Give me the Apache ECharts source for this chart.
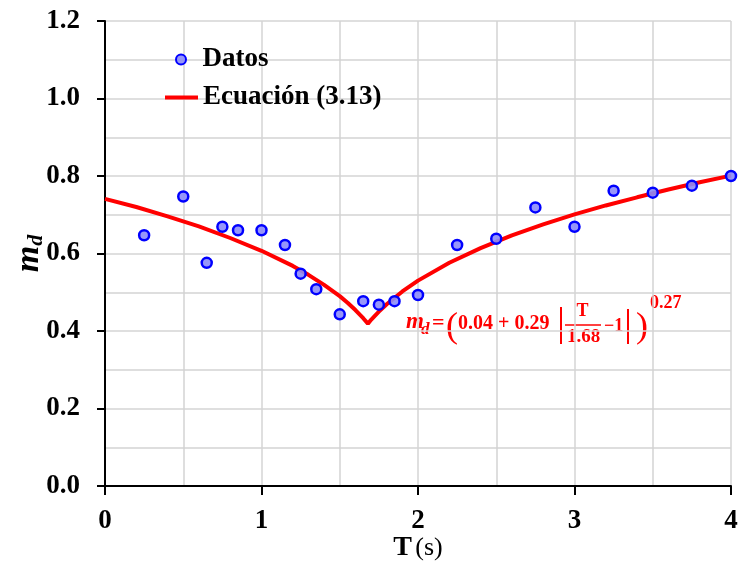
<!DOCTYPE html>
<html>
<head>
<meta charset="utf-8">
<script src="https://cdn.jsdelivr.net/npm/echarts@6/dist/echarts.min.js"></script>
<style>html,body{margin:0;padding:0;background:#fff}#c{width:739px;height:566px}</style>
</head>
<body>
<div id="c"></div>
<script>
// Measured data points (T in s, m_d)
const datosT = [0.25, 0.5, 0.65, 0.75, 0.85, 1.0, 1.15, 1.25, 1.35, 1.5, 1.65, 1.75, 1.85, 2.0, 2.25, 2.5, 2.75, 3.0, 3.25, 3.5, 3.75, 4.0];
const datosMd = [0.647, 0.747, 0.576, 0.669, 0.660, 0.660, 0.622, 0.548, 0.508, 0.443, 0.477, 0.468, 0.477, 0.493, 0.622, 0.638, 0.719, 0.669, 0.762, 0.757, 0.775, 0.800];
// Curve "Ecuación (3.13)"
const curvaT = [0, 0.2, 0.4, 0.6, 0.8, 1.0, 1.2, 1.3, 1.4, 1.5, 1.55, 1.6, 1.65, 1.68, 1.7, 1.75, 1.8, 1.9, 2.0, 2.2, 2.4, 2.6, 2.8, 3.0, 3.2, 3.4, 3.6, 3.8, 4.0];
const curvaMd = [0.741, 0.720, 0.696, 0.670, 0.640, 0.607, 0.568, 0.545, 0.519, 0.490, 0.473, 0.454, 0.433, 0.419, 0.429, 0.450, 0.469, 0.502, 0.530, 0.576, 0.614, 0.647, 0.675, 0.701, 0.724, 0.745, 0.765, 0.784, 0.801];
const xTicks = [0, 1, 2, 3, 4];
const yTicks = [0.0, 0.2, 0.4, 0.6, 0.8, 1.0, 1.2];

const F = 'Liberation Serif';
const chart = echarts.init(document.getElementById('c'));
const gridLine = { show: true, lineStyle: { color: '#d4d4d4', width: 1.5 } };
const red = '#ff0000';
const legendText = { fontFamily: F, fontWeight: 'bold', fontSize: 27, color: '#000' };

function t(txt, x, y, size, opts) {
  return { type: 'text', x: x, y: y, style: Object.assign({ text: txt, fontFamily: F, fontWeight: 'bold', fontSize: size, fill: red, align: 'left', verticalAlign: 'middle' }, opts || {}) };
}

chart.setOption({
  animation: false,
  grid: { left: 105, right: 8, top: 21, bottom: 80, containLabel: false, outerBoundsMode: 'none' },
  legend: [
    { data: [{ name: 'Datos', icon: 'circle' }], left: 170, top: 41, itemWidth: 33, itemHeight: 10, textStyle: legendText },
    { data: [{ name: 'Ecuación (3.13)', icon: 'rect' }], left: 160, top: 79, itemWidth: 33, itemHeight: 4, textStyle: legendText }
  ],
  xAxis: {
    type: 'value', min: xTicks[0], max: xTicks[xTicks.length - 1], interval: 1,
    name: '{a|T} {b|(s)}', nameLocation: 'middle', nameGap: 48, nameMoveOverlap: false,
    nameTextStyle: { rich: { a: { fontFamily: F, fontWeight: 'bold', fontSize: 28, color: '#000' }, b: { fontFamily: F, fontWeight: 'normal', fontSize: 26, color: '#000' } } },
    axisLine: { show: true, onZero: false, lineStyle: { color: '#000', width: 2 } },
    axisTick: { show: true, inside: false, length: 9, lineStyle: { color: '#000', width: 2 } },
    axisLabel: { fontFamily: F, fontWeight: 'bold', fontSize: 27, color: '#000', margin: 22, formatter: v => String(v) },
    splitLine: gridLine,
    minorTick: { show: false, splitNumber: 2 },
    minorSplitLine: gridLine
  },
  yAxis: {
    type: 'value', min: yTicks[0], max: yTicks[yTicks.length - 1], interval: 0.2,
    name: '{m|m}{d|d}', nameLocation: 'middle', nameGap: 58, nameRotate: 90, nameMoveOverlap: false,
    nameTextStyle: { rich: { m: { fontFamily: F, fontWeight: 'bold', fontStyle: 'italic', fontSize: 34, color: '#000' }, d: { fontFamily: F, fontWeight: 'bold', fontStyle: 'italic', fontSize: 22, color: '#000', padding: [14, 0, 0, 0] } } },
    axisLine: { show: true, onZero: false, lineStyle: { color: '#000', width: 2 } },
    axisTick: { show: true, inside: false, length: 8, lineStyle: { color: '#000', width: 2 } },
    axisLabel: { fontFamily: F, fontWeight: 'bold', fontSize: 27, color: '#000', margin: 25, formatter: v => v.toFixed(1) },
    splitLine: gridLine,
    minorTick: { show: false, splitNumber: 2 },
    minorSplitLine: gridLine
  },
  series: [
    {
      name: 'Ecuación (3.13)', type: 'line', data: curvaT.map((x, i) => [x, curvaMd[i]]),
      symbol: 'none', smooth: false, lineStyle: { color: red, width: 4 }, itemStyle: { color: red }, z: 2
    },
    {
      name: 'Datos', type: 'scatter', data: datosT.map((x, i) => [x, datosMd[i]]),
      symbol: 'circle', symbolSize: 10,
      itemStyle: { color: 'rgba(140,140,250,0.9)', borderColor: '#0000ff', borderWidth: 2.5, opacity: 1 }, z: 3
    }
  ],
  graphic: [
    t('m', 406, 322, 23, { fontStyle: 'italic' }),
    t('d', 421, 330, 17, { fontStyle: 'italic' }),
    t('=', 432, 323, 22),
    t('(', 446, 328, 36, { fontWeight: 'normal' }),
    t('0.04 + 0.29', 458, 324, 20),
    { type: 'line', shape: { x1: 561, y1: 307, x2: 561, y2: 344 }, style: { stroke: red, lineWidth: 2 } },
    t('T', 582.5, 311, 18, { align: 'center' }),
    { type: 'line', shape: { x1: 565, y1: 325, x2: 601, y2: 325 }, style: { stroke: red, lineWidth: 1.5 } },
    t('1.68', 583.5, 337.5, 19, { align: 'center' }),
    t('−1', 604, 326, 18),
    { type: 'line', shape: { x1: 628, y1: 309, x2: 628, y2: 344 }, style: { stroke: red, lineWidth: 2 } },
    t(')', 636, 328, 36, { fontWeight: 'normal' }),
    t('0.27', 650, 303, 18)
  ]
});
</script>
</body>
</html>
